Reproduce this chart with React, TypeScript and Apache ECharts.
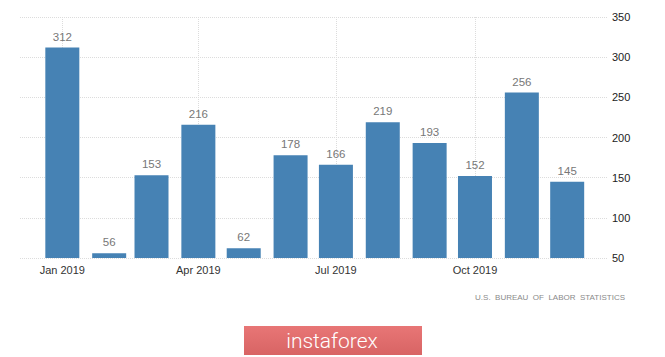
import React, { useEffect, useRef } from "react";
import * as echarts from "echarts";

const months = ["2019-01-01","2019-02-01","2019-03-01","2019-04-01","2019-05-01","2019-06-01","2019-07-01","2019-08-01","2019-09-01","2019-10-01","2019-11-01","2019-12-01"];
const payrolls = [312, 56, 153, 216, 62, 178, 166, 219, 193, 152, 256, 145];
const xTickDates = ["2019-01-01", "2019-04-01", "2019-07-01", "2019-10-01"];
const monthNames = ["Jan","Feb","Mar","Apr","May","Jun","Jul","Aug","Sep","Oct","Nov","Dec"];
const sourceText = "U.S.  BUREAU  OF  LABOR  STATISTICS";
const brandText = "instaforex";

const DAY = 86400000;
const ts = (s: string) => Date.UTC(+s.slice(0, 4), +s.slice(5, 7) - 1, +s.slice(8, 10));
const base = ts("2019-01-01");
const dayOf = (s: string) => Math.round((ts(s) - base) / DAY);

export default function App() {
  const ref = useRef<HTMLDivElement>(null);
  useEffect(() => {
    document.body.style.margin = "0";
    const chart = echarts.init(ref.current!, null, { renderer: "svg" });
    const tickDays = xTickDates.map(dayOf);
    chart.setOption({
      animation: false,
      backgroundColor: "#ffffff",
      grid: { left: 20, right: 57, top: 17, bottom: 99 },
      xAxis: {
        type: "value",
        min: dayOf("2018-12-04"),
        max: dayOf("2019-12-28"),
        axisLine: { show: false },
        axisTick: { show: false, customValues: tickDays },
        axisLabel: {
          customValues: tickDays,
          formatter: (v: number) => {
            const d = new Date(base + v * DAY);
            return monthNames[d.getUTCMonth()] + " " + d.getUTCFullYear();
          },
          color: "#333",
          fontSize: 11,
          fontFamily: "Liberation Sans, Arial, sans-serif",
          margin: 6,
        },
        splitLine: { show: true, lineStyle: { color: "#dcdcdc", type: "dotted", width: 1 } },
      },
      yAxis: {
        type: "value",
        position: "right",
        min: 50,
        max: 350,
        interval: 50,
        axisLine: { show: false },
        axisTick: { show: false },
        axisLabel: { color: "#222", fontSize: 11, fontFamily: "Liberation Sans, Arial, sans-serif", margin: 4 },
        splitLine: { show: true, lineStyle: { color: "#dcdcdc", type: "dotted", width: 1 } },
      },
      series: [
        {
          type: "bar",
          data: months.map((m, i) => [dayOf(m), payrolls[i]]),
          barWidth: 34,
          itemStyle: { color: "#4682b4" },
          label: {
            show: true,
            position: "top",
            distance: 5,
            color: "#777",
            fontSize: 11.5,
            fontFamily: "Liberation Sans, Arial, sans-serif",
            formatter: (p: any) => String(p.value[1]),
          },
        },
      ],
      graphic: [
        {
          type: "text",
          right: 40,
          top: 293,
          style: {
            text: sourceText,
            fill: "#8a8a8a",
            font: "8px 'Liberation Sans', Arial, sans-serif",
          },
        },
        {
          type: "rect",
          shape: { x: 244, y: 326, width: 178, height: 29 },
          style: {
            fill: new echarts.graphic.LinearGradient(0, 0, 0, 1, [
              { offset: 0, color: "#e87676" },
              { offset: 1, color: "#d86464" },
            ]),
          },
        },
        {
          type: "text",
          x: 332,
          y: 341,
          style: {
            text: brandText,
            fill: "#ffffff",
            font: "300 21px Roboto, 'Liberation Sans', sans-serif",
            align: "center",
            verticalAlign: "middle",
          },
        },
      ],
    });
    return () => chart.dispose();
  }, []);
  return <div ref={ref} style={{ width: 665, height: 357 }} />;
}
